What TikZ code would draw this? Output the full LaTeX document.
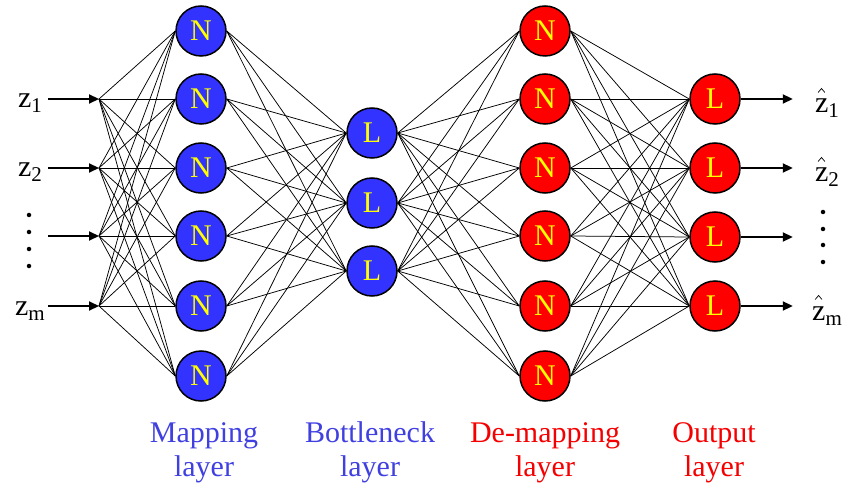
\documentclass[tikz,border=0pt]{standalone}
\usepackage{fontspec}
\setmainfont{Liberation Serif}
\usetikzlibrary{arrows.meta}
\definecolor{nodeblue}{RGB}{51,51,255}
\definecolor{nodered}{RGB}{255,0,0}
\definecolor{labelblue}{RGB}{64,64,225}
\definecolor{labelred}{RGB}{245,0,0}
\definecolor{glyph}{RGB}{255,255,0}

\newcommand{\subs}[1]{\raisebox{-5pt}{\fontsize{21}{21}\selectfont #1}}

\begin{document}
\begin{tikzpicture}[x=1pt,y=-1pt,
  unit/.style={circle, draw=black, line width=1.5pt, minimum size=50pt,
    inner sep=0pt, text=glyph, font=\fontsize{30}{30}\selectfont},
  bluenode/.style={unit, fill=nodeblue},
  rednode/.style={unit, fill=nodered},
  link/.style={line width=0.75pt, black},
  feed/.style={line width=2.2pt, -{Triangle[length=10pt,width=9pt]}},
  varlabel/.style={anchor=base, inner sep=0pt, font=\fontsize{30}{30}\selectfont},
  caption/.style={anchor=base, inner sep=0pt, font=\fontsize{30}{30}\selectfont},
  vdot/.style={circle, fill=black, inner sep=0pt, minimum size=4.5pt},
  caret/.style={line width=0.7pt, line join=miter}
]
\useasboundingbox (0,0) rectangle (845,486);

% mapping layer
\foreach \i/\y in {1/31,2/99,3/168,4/236,5/306,6/376}
  \node[bluenode] (m\i) at (201,\y) {N};
% bottleneck layer
\foreach \i/\y in {1/133,2/203,3/271}
  \node[bluenode] (b\i) at (372,\y) {L};
% de-mapping layer
\foreach \i/\y in {1/31,2/99,3/168,4/236,5/306,6/376}
  \node[rednode] (d\i) at (545,\y) {N};
% output layer
\foreach \i/\y in {1/99,2/168,3/237,4/306}
  \node[rednode] (o\i) at (715,\y) {L};

% input fan-out points, arrow tails and output arrow ends
\foreach \i/\y in {1/99,2/168,3/236,4/306} {
  \coordinate (s\i) at (48,\y);
  \coordinate (i\i) at (99,\y);
}
\foreach \i in {1,...,4}
  \coordinate (e\i) at ([xshift=52pt]o\i.east);

% inputs
\foreach \i in {1,...,4}
  \draw[feed] (s\i) -- (i\i);

% weights
\foreach \i in {1,...,4}
  \foreach \j in {1,...,6}
    \draw[link] (i\i) -- (m\j.west);
\foreach \i in {1,...,6}
  \foreach \j in {1,...,3}
    \draw[link] (m\i.east) -- (b\j.west);
\foreach \i in {1,...,3}
  \foreach \j in {1,...,6}
    \draw[link] (b\i.east) -- (d\j.west);
\foreach \i in {1,...,6}
  \foreach \j in {1,...,4}
    \draw[link] (d\i.east) -- (o\j.west);

% outputs
\foreach \i in {1,...,4}
  \draw[feed] (o\i.east) -- (e\i);

% input variable names
\node[varlabel] (z1) at (30,108) {z\subs{1}};
\node[varlabel] (z2) at (30,177) {z\subs{2}};
\node[varlabel] (zm) at (30,315) {z\subs{m}};
\foreach \k/\y in {1/215,2/232,3/249,4/266}
  \node[vdot] (ld\k) at (29,\y) {};

% reconstructed variable names, each z topped by a small caret
\node[varlabel] (h1) at (827,113) {z\subs{1}};
\node[varlabel] (h2) at (827,182) {z\subs{2}};
\node[varlabel] (hm) at (827,320) {z\subs{m}};
\foreach \h in {h1,h2,hm}
  \draw[caret] ([xshift=3.2pt,yshift=20.5pt]\h.base west) -- ++(3.4,-4) -- ++(3.4,4);
\foreach \k/\y in {1/212,2/229,3/245,4/262}
  \node[vdot] (rd\k) at (823,\y) {};

% layer captions
\node[caption, text=labelblue] (c1a) at (204,442) {Mapping};
\node[caption, text=labelblue] (c1b) at (204,476) {layer};
\node[caption, text=labelblue] (c2a) at (370,442) {Bottleneck};
\node[caption, text=labelblue] (c2b) at (370,476) {layer};
\node[caption, text=labelred] (c3a) at (545,442) {De-mapping};
\node[caption, text=labelred] (c3b) at (545,476) {layer};
\node[caption, text=labelred] (c4a) at (714,442) {Output};
\node[caption, text=labelred] (c4b) at (714,476) {layer};
\end{tikzpicture}
\end{document}
